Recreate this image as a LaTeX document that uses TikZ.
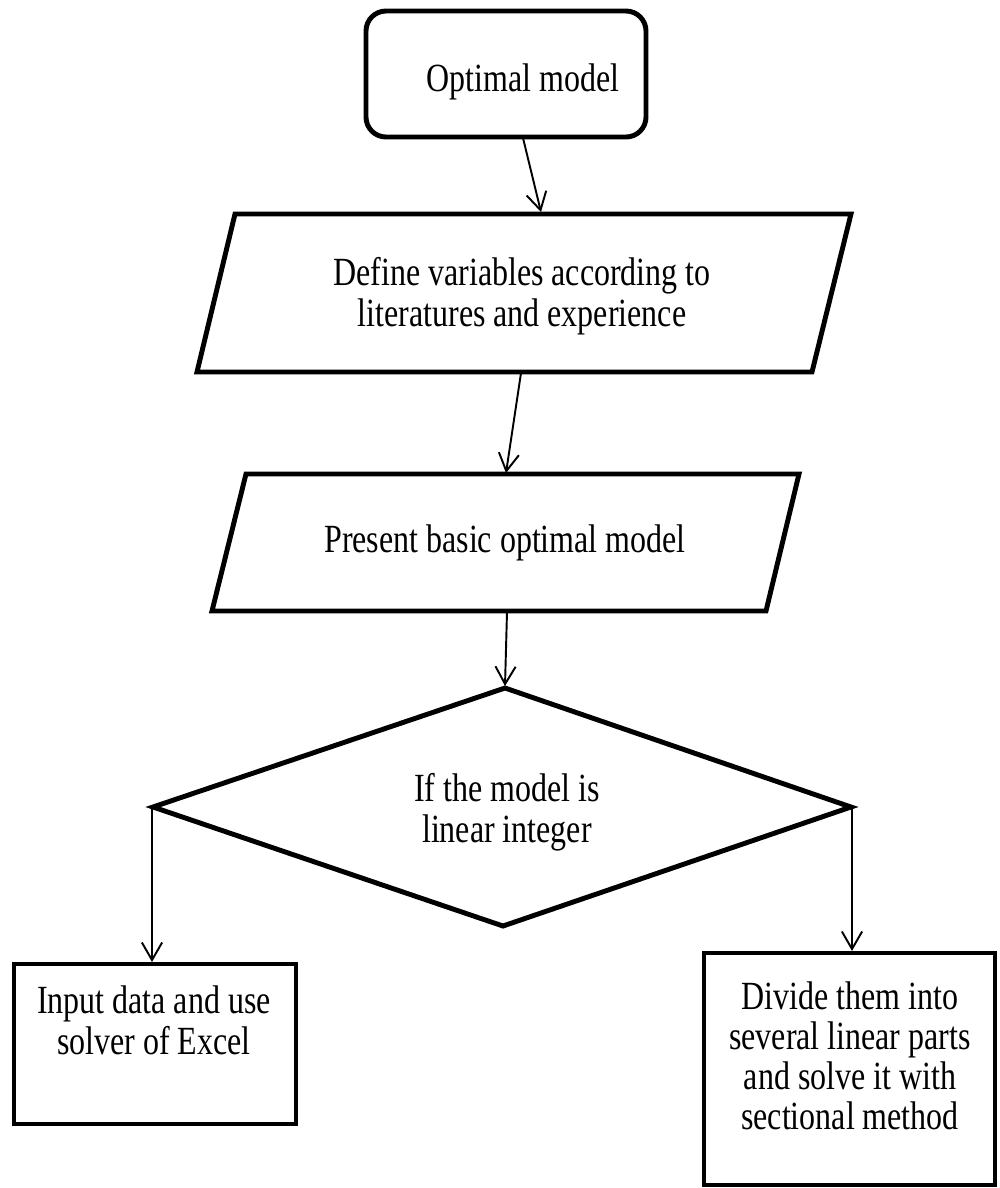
\documentclass[tikz,border=0pt]{standalone}
\usepackage{fontspec}
\setmainfont{Liberation Serif}
\newfontfamily\tallfont[FakeStretch=0.8]{Liberation Serif}
\usetikzlibrary{arrows.meta}
\begin{document}
\begin{tikzpicture}[x=0.02cm,y=-0.02cm,
  shp/.style={line width=2.8pt, line join=miter},
  conn/.style={line width=1.1pt, -{Straight Barb[length=10pt,width=11.5pt,line width=1.1pt]}},
  txt/.style={align=center, inner sep=0pt, font=\tallfont\fontsize{22.75}{23.3}\selectfont},
  txtb/.style={align=center, inner sep=0pt, font=\tallfont\fontsize{22.75}{22.8}\selectfont}]
\useasboundingbox (0,0) rectangle (1000,1188);
% shapes
\draw[shp, rounded corners=0.4cm] (366,11) rectangle (646,137);
\draw[shp] (235,214) -- (851,214) -- (812,372) -- (197,372) -- cycle;
\draw[shp] (246,474) -- (799,474) -- (766,611) -- (212,611) -- cycle;
\draw[shp] (505,688) -- (851,807) -- (503,926) -- (153,807) -- cycle;
\draw[shp] (14,964) rectangle (296,1124);
\draw[shp] (704,953) rectangle (995,1185);
% text nodes
\node[txt] (t1) at (523,82) {Optimal model};
\node[txt] (t2) at (522,296) {Define variables according to\\literatures and experience};
\node[txt] (t3) at (505,543) {Present basic optimal model};
\node[txt] (t4) at (507,812) {If the model is\\linear integer};
\node[txt] (t5) at (154,1020) {Input data and use\\solver of Excel};
\node[txtb] (t6) at (850,1056) {Divide them into\\several linear parts\\and solve it with\\sectional method};
% connector coordinates
\coordinate (a1s) at (523,138);
\coordinate (a1e) at (541,212);
\coordinate (a2s) at (521,373);
\coordinate (a2e) at (506,473);
\coordinate (a3s) at (507,612);
\coordinate (a3e) at (505,686);
\coordinate (dl) at (152,807);
\coordinate (lb) at (152,962);
\coordinate (dr) at (852,807);
\coordinate (rb) at (852,951);
\draw[conn] (a1s) -- (a1e);
\draw[conn] (a2s) -- (a2e);
\draw[conn] (a3s) -- (a3e);
\draw[conn] (dl) -- (lb);
\draw[conn] (dr) -- (rb);
\end{tikzpicture}
\end{document}
